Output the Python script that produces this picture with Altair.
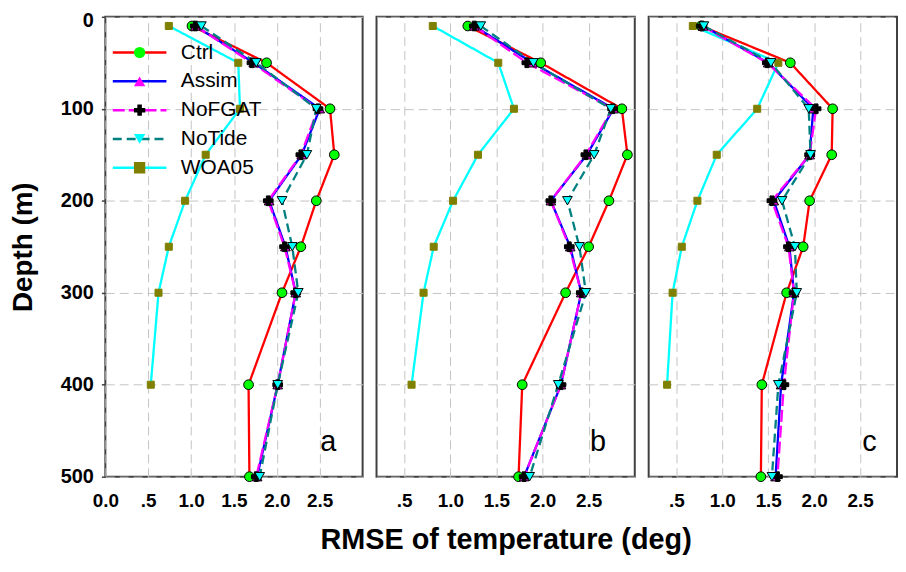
import altair as alt
import pandas as pd

# ---------------- data ----------------
depths = [10, 50, 100, 150, 200, 250, 300, 400, 500]
woa_depths = [10, 50, 100, 150, 200, 250, 300, 400]
series_names = ["Ctrl", "Assim", "NoFGAT", "NoTide", "WOA05"]
draw_order = ["WOA05", "Ctrl", "Assim", "NoFGAT", "NoTide"]

# panel a
ctrl_a = [1.01, 1.88, 2.62, 2.67, 2.46, 2.28, 2.06, 1.67, 1.68]
assim_a = [1.05, 1.73, 2.50, 2.29, 1.91, 2.10, 2.22, 2.01, 1.77]
nofgat_a = [1.05, 1.71, 2.48, 2.28, 1.90, 2.09, 2.22, 2.01, 1.76]
notide_a = [1.12, 1.76, 2.46, 2.35, 2.06, 2.18, 2.25, 2.01, 1.80]
woa_a = [0.74, 1.55, 1.57, 1.17, 0.93, 0.74, 0.62, 0.53]

# panel b
ctrl_b = [1.19, 1.98, 2.86, 2.92, 2.72, 2.50, 2.25, 1.78, 1.74]
assim_b = [1.26, 1.89, 2.77, 2.48, 2.09, 2.30, 2.42, 2.20, 1.80]
nofgat_b = [1.26, 1.83, 2.76, 2.47, 2.09, 2.29, 2.42, 2.20, 1.80]
notide_b = [1.33, 1.90, 2.74, 2.56, 2.27, 2.40, 2.47, 2.17, 1.86]
woa_b = [0.81, 1.52, 1.69, 1.30, 1.03, 0.82, 0.71, 0.58]

# panel c
ctrl_c = [0.77, 1.74, 2.20, 2.19, 1.95, 1.88, 1.70, 1.43, 1.42]
assim_c = [0.79, 1.50, 1.99, 1.95, 1.56, 1.73, 1.78, 1.64, 1.58]
nofgat_c = [0.78, 1.49, 2.02, 1.95, 1.54, 1.72, 1.78, 1.67, 1.60]
notide_c = [0.80, 1.53, 1.94, 1.96, 1.65, 1.79, 1.81, 1.61, 1.54]
woa_c = [0.68, 1.61, 1.38, 0.94, 0.73, 0.56, 0.46, 0.40]

panel_values = [
    {"Ctrl": ctrl_a, "Assim": assim_a, "NoFGAT": nofgat_a, "NoTide": notide_a, "WOA05": woa_a},
    {"Ctrl": ctrl_b, "Assim": assim_b, "NoFGAT": nofgat_b, "NoTide": notide_b, "WOA05": woa_b},
    {"Ctrl": ctrl_c, "Assim": assim_c, "NoFGAT": nofgat_c, "NoTide": notide_c, "WOA05": woa_c},
]
panel_letters = ["a", "b", "c"]
x_tick_values = [[0, 0.5, 1.0, 1.5, 2.0, 2.5], [0.5, 1.0, 1.5, 2.0, 2.5], [0.5, 1.0, 1.5, 2.0, 2.5]]
y_tick_values = [0, 100, 200, 300, 400, 500]

# ---------------- styles ----------------
FONT = "Liberation Sans, Arial, sans-serif"
line_colors = ["#ff0000", "#0000ff", "#ff00ff", "#008080", "#00ffff"]
line_dashes = [[1, 0], [1, 0], [12, 4], [9, 5], [1, 0]]
marker_shapes = ["circle", "triangle-up", "cross", "triangle-down", "square"]
marker_fills = ["#00ff00", "#ff00ff", "#000000", "#00ffff", "#808000"]
x_domains = [[0, 3.0], [0.2, 3.0], [0.2, 2.9]]
panel_widths = [259, 260, 250]
PANEL_H = 463
GRID = dict(grid=True, gridDash=[9, 5], gridColor="#c4c4c4", gridWidth=1)

leg_line = alt.Legend(
    title=None, orient="none", legendX=6, legendY=26, padding=0,
    symbolType="stroke", symbolSize=2916, symbolStrokeWidth=2.5,
    labelFont=FONT, labelFontSize=21, labelColor="black", labelOffset=13,
    clipHeight=20, rowPadding=8, symbolLimit=0,
)
leg_pt = alt.Legend(
    title=None, orient="none", legendX=24, legendY=26, padding=0,
    symbolSize=130, symbolStrokeColor="black", symbolStrokeWidth=1,
    labelFont=FONT, labelFontSize=21, labelExpr="''", labelOffset=13,
    clipHeight=20, rowPadding=8, symbolLimit=0,
)

label_expr = "datum.value == 0.5 ? '.5' : format(datum.value, '.1f')"


def make_panel(i):
    rows = []
    for name in draw_order:
        ds = woa_depths if name == "WOA05" else depths
        for d, v in zip(ds, panel_values[i][name]):
            rows.append({"series": name, "marker": name, "rank": series_names.index(name),
                         "depth": d, "rmse": v})
    df = pd.DataFrame(rows)
    first = i == 0

    xaxis = alt.Axis(
        values=x_tick_values[i], labelExpr=label_expr, labelFont=FONT, labelFontSize=19,
        labelFontWeight="bold", labelColor="black", labelPadding=15, labelFlush=False,
        labelOverlap=False, ticks=False, domain=False,
        title="RMSE of temperature (deg)" if i == 1 else None,
        titleFont=FONT, titleFontSize=29, titleFontWeight="bold", titleColor="black",
        titlePadding=15, **GRID,
    )
    if first:
        yaxis = alt.Axis(
            values=y_tick_values, title="Depth (m)", titleFont=FONT, titleFontSize=28,
            titleFontWeight="bold", titleColor="black", titlePadding=23,
            labelFont=FONT, labelFontSize=20, labelFontWeight="bold", labelColor="black",
            labelPadding=8, labelFlush=False, labelOverlap=False,
            labelOffset={"condition": {"test": "datum.value == 0", "value": 4}, "value": 0},
            tickSize=4, tickColor="#404040", tickWidth=1.5, domain=False, **GRID,
        )
    else:
        yaxis = alt.Axis(values=y_tick_values, labels=False, ticks=False, domain=False,
                         title=None, **GRID)

    xscale = alt.Scale(domain=x_domains[i], nice=False, zero=False)
    yscale = alt.Scale(domain=[0, 500], reverse=True, nice=False, zero=False)
    marker_sort = alt.EncodingSortField(field="rank", op="min")

    base = alt.Chart(df)
    lines = base.mark_line(strokeWidth=2.3).encode(
        x=alt.X("rmse:Q", scale=xscale, axis=xaxis),
        y=alt.Y("depth:Q", scale=yscale, axis=yaxis),
        order=alt.Order("depth:Q"),
        color=alt.Color("series:N", scale=alt.Scale(domain=series_names, range=line_colors),
                        legend=leg_line if first else None),
        strokeDash=alt.StrokeDash("series:N", scale=alt.Scale(domain=series_names, range=line_dashes),
                                  legend=leg_line if first else None),
    )
    points = base.mark_point(filled=True, opacity=1, strokeWidth=1).encode(
        x=alt.X("rmse:Q"),
        y=alt.Y("depth:Q"),
        shape=alt.Shape("marker:N", sort=marker_sort, scale=alt.Scale(range=marker_shapes),
                        legend=leg_pt if first else None),
        fill=alt.Fill("marker:N", sort=marker_sort, scale=alt.Scale(range=marker_fills),
                      legend=leg_pt if first else None),
        stroke=alt.condition(alt.datum.marker == "WOA05", alt.value("#808000"), alt.value("black")),
        size=alt.condition(alt.datum.marker == "WOA05", alt.value(50), alt.value(95)),
    )
    letter_df = pd.DataFrame({"t": [panel_letters[i]], "rmse": [2.6], "depth": [462]})
    letter = alt.Chart(letter_df).mark_text(font=FONT, fontSize=29, color="black").encode(
        x=alt.X("rmse:Q"), y=alt.Y("depth:Q"), text="t:N"
    )
    return alt.layer(lines, points, letter).properties(width=panel_widths[i], height=PANEL_H)


chart = (
    alt.hconcat(make_panel(0), make_panel(1), make_panel(2), spacing=14, bounds="flush")
    .resolve_scale(color="independent", strokeDash="independent", shape="independent", fill="independent")
    .properties(padding={"top": 0, "left": 0, "right": 0, "bottom": 0})
    .configure_view(stroke="#404040", strokeWidth=2)
)

chart.save("out.html", embed_options={"renderer": "svg", "actions": False})
